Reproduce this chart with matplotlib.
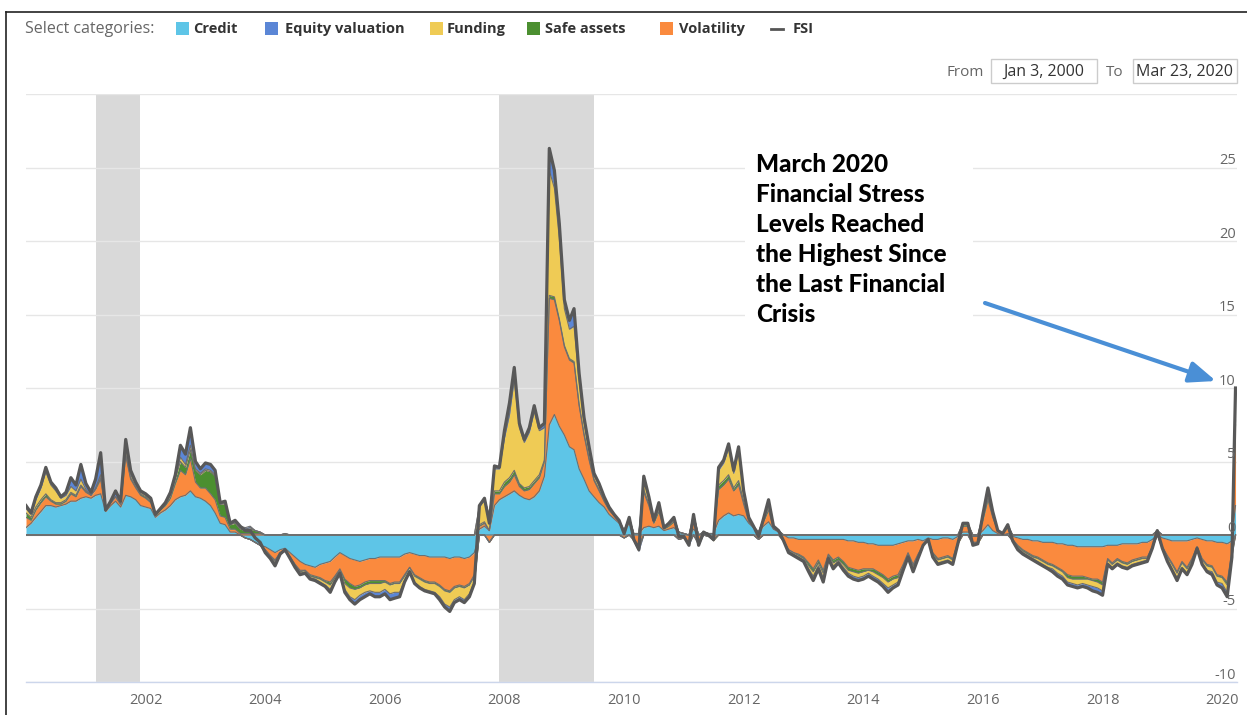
import matplotlib
matplotlib.use('Agg')

import numpy as np
import pandas as pd
import matplotlib.pyplot as plt
from matplotlib.patches import Rectangle, FancyArrowPatch
from matplotlib.lines import Line2D
from matplotlib.transforms import blended_transform_factory

W, H = 1247, 715

# monthly points, plus the last reading (Mar 23, 2020)
dates = list(pd.date_range('2000-01-01', '2020-03-01', freq='MS')) + [pd.Timestamp('2020-03-23')]

credit = [
    0.5, 0.8, 1.2, 1.6, 2.0, 2.0, 1.9, 2.0, 2.1, 2.3, 2.3, 2.5,          # 2000
    2.6, 2.5, 2.7, 2.8, 1.6, 2.0, 2.3, 1.9, 2.7, 2.6, 2.4, 2.0,          # 2001
    1.9, 1.8, 1.2, 1.5, 1.7, 2.0, 2.4, 2.6, 2.7, 3.0, 2.6, 2.5,          # 2002
    2.3, 2.0, 1.5, 0.8, 0.7, 0.2, 0.2, 0.0, -0.2, -0.3, -0.5, -0.7,      # 2003
    -0.8, -1.0, -1.2, -1.0, -0.9, -1.2, -1.5, -1.8, -2.0, -2.1, -2.2, -2.0,  # 2004
    -1.9, -1.8, -1.5, -1.2, -1.4, -1.6, -1.7, -1.8, -1.7, -1.6, -1.6, -1.5,  # 2005
    -1.5, -1.5, -1.5, -1.5, -1.3, -1.2, -1.3, -1.4, -1.4, -1.5, -1.5, -1.5,  # 2006
    -1.5, -1.6, -1.5, -1.5, -1.6, -1.5, -1.2, 0.4, 0.6, 0.3, 2.0, 2.4,   # 2007
    2.6, 2.8, 3.0, 2.7, 2.5, 2.4, 2.6, 3.0, 4.0, 7.5, 8.2, 7.4,          # 2008
    6.8, 6.0, 5.8, 4.5, 3.8, 3.0, 2.6, 2.2, 1.9, 1.4, 1.1, 0.8,          # 2009
    0.3, 0.8, 0.1, 0.1, 0.5, 0.6, 0.5, 0.6, 0.3, 0.4, 0.5, 0.2,          # 2010
    0.1, 0.0, 0.4, 0.0, 0.2, 0.1, 0.1, 1.0, 1.3, 1.5, 1.3, 1.4,          # 2011
    1.3, 0.8, 0.5, 0.2, 0.6, 0.9, 0.4, 0.2, 0.0, -0.2, -0.2, -0.3,       # 2012
    -0.3, -0.3, -0.3, -0.3, -0.3, -0.3, -0.3, -0.3, -0.3, -0.4, -0.4, -0.5,  # 2013
    -0.5, -0.6, -0.6, -0.7, -0.7, -0.7, -0.7, -0.6, -0.5, -0.4, -0.4, -0.3,  # 2014
    -0.4, -0.2, -0.3, -0.3, -0.2, -0.2, -0.3, -0.1, 0.2, 0.2, -0.1, -0.1,    # 2015
    0.3, 0.7, 0.3, 0.1, 0.0, 0.1, -0.1, -0.2, -0.3, -0.3, -0.4, -0.4,    # 2016
    -0.5, -0.5, -0.5, -0.6, -0.6, -0.7, -0.7, -0.8, -0.8, -0.8, -0.8, -0.8,  # 2017
    -0.8, -0.7, -0.7, -0.7, -0.6, -0.6, -0.6, -0.6, -0.5, -0.5, -0.3, 0.0,   # 2018
    -0.2, -0.3, -0.4, -0.4, -0.4, -0.4, -0.3, -0.2, -0.3, -0.4, -0.4, -0.5,  # 2019
    -0.5, -0.6, -0.4, 2.0,                                               # 2020
]

equity = [
    0.2, 0.1, 0.2, 0.2, 0.3, 0.2, 0.2, 0.1, 0.2, 0.6, 0.4, 1.0,
    0.4, 0.2, 0.6, 1.5, 0.0, 0.1, 0.4, 0.2, 0.6, 0.3, 0.2, 0.1,
    0.1, 0.1, 0.0, 0.0, 0.1, 0.1, 0.2, 0.8, 0.7, 1.2, 0.5, 0.3,
    0.4, 0.4, 0.3, 0.1, 0.1, 0.1, 0.1, 0.1, 0.1, 0.1, 0.0, 0.0,
    -0.1, -0.1, -0.2, -0.1, 0.0, -0.1, -0.1, -0.1, -0.1, -0.1, -0.1, -0.1,
    -0.1, -0.2, -0.1, -0.1, -0.2, -0.2, -0.3, -0.3, -0.3, -0.2, -0.3, -0.3,
    -0.3, -0.4, -0.4, -0.3, -0.1, -0.1, -0.1, -0.1, -0.1, -0.1, -0.1, -0.2,
    -0.2, -0.3, -0.2, -0.2, -0.2, -0.2, -0.1, 0.1, 0.1, 0.0, 0.2, 0.1,
    0.5, 0.8, 0.8, 0.3, 0.2, 0.3, 0.4, 0.2, 0.3, 1.5, 1.2, 1.0,
    0.6, 0.6, 1.2, 0.5, 0.3, 0.2, 0.1, 0.1, 0.1, 0.1, 0.0, 0.0,
    0.0, 0.0, -0.1, -0.2, 0.3, 0.1, 0.0, 0.1, 0.0, 0.0, 0.0, 0.0,
    0.0, -0.1, 0.1, -0.1, 0.0, 0.0, 0.0, 0.2, 0.2, 0.3, 0.2, 0.3,
    0.1, 0.0, 0.0, 0.0, 0.0, 0.1, 0.0, 0.0, 0.0, -0.1, -0.1, -0.1,
    -0.1, -0.2, -0.3, -0.2, -0.3, -0.1, -0.2, -0.1, -0.2, -0.2, -0.2, -0.2,
    -0.2, -0.2, -0.2, -0.2, -0.2, -0.3, -0.2, -0.2, -0.1, -0.1, -0.2, -0.1,
    0.0, 0.0, -0.1, -0.1, -0.1, -0.1, -0.1, 0.0, 0.0, 0.0, -0.1, 0.0,
    0.1, 0.2, 0.1, 0.0, 0.0, 0.0, 0.0, -0.1, -0.1, -0.1, -0.1, -0.1,
    -0.1, -0.1, -0.2, -0.2, -0.2, -0.2, -0.2, -0.2, -0.2, -0.2, -0.3, -0.3,
    -0.3, -0.1, -0.1, -0.1, -0.1, -0.1, -0.1, -0.1, -0.1, -0.1, 0.0, 0.0,
    0.0, -0.1, -0.1, -0.2, -0.1, -0.1, -0.1, 0.0, -0.1, -0.1, -0.2, -0.2,
    -0.3, -0.3, -0.1, 0.7,
]

safe_assets = [
    0.3, 0.2, 0.2, 0.2, 0.2, 0.1, 0.1, 0.1, 0.1, 0.1, 0.1, 0.1,
    0.1, 0.0, 0.0, 0.1, 0.0, 0.0, 0.0, 0.0, 0.1, 0.1, 0.1, 0.1,
    0.1, 0.1, 0.1, 0.1, 0.1, 0.2, 0.3, 0.6, 0.5, 0.6, 0.8, 0.9,
    1.2, 1.5, 1.6, 0.8, 0.9, 0.3, 0.4, 0.3, 0.2, 0.3, 0.2, 0.1,
    0.0, 0.0, -0.1, 0.0, 0.1, 0.0, 0.0, -0.1, 0.0, -0.1, -0.1, -0.1,
    -0.1, -0.2, -0.1, -0.1, -0.3, -0.3, -0.2, -0.2, -0.2, -0.2, -0.2, -0.2,
    -0.1, -0.1, -0.1, -0.1, -0.1, 0.0, -0.1, -0.1, -0.1, -0.1, -0.1, -0.1,
    -0.1, -0.1, -0.1, -0.1, -0.1, -0.1, -0.1, 0.1, 0.1, 0.0, 0.2, 0.2,
    0.3, 0.3, 0.3, 0.2, 0.2, 0.2, 0.2, 0.2, 0.1, 0.2, 0.2, 0.1,
    0.1, 0.1, 0.1, 0.1, 0.1, 0.1, 0.1, 0.1, 0.0, 0.0, 0.0, 0.0,
    0.0, 0.0, 0.0, -0.1, 0.2, 0.1, 0.1, 0.2, 0.1, 0.1, 0.1, 0.0,
    0.0, 0.0, 0.0, 0.0, 0.0, 0.0, 0.0, 0.3, 0.3, 0.3, 0.2, 0.3,
    0.2, 0.1, 0.0, 0.0, 0.1, 0.2, 0.1, 0.0, 0.0, 0.0, 0.0, -0.1,
    -0.1, -0.2, -0.2, -0.2, -0.2, -0.1, -0.2, -0.2, -0.2, -0.2, -0.2, -0.2,
    -0.2, -0.1, -0.2, -0.2, -0.2, -0.2, -0.2, -0.2, -0.1, -0.1, -0.1, -0.1,
    0.0, 0.0, -0.1, -0.1, -0.1, -0.1, -0.1, 0.0, 0.1, 0.1, 0.0, 0.0,
    0.1, 0.2, 0.1, 0.0, 0.0, 0.1, 0.0, -0.1, -0.1, -0.1, -0.1, -0.1,
    -0.1, -0.1, -0.1, -0.1, -0.1, -0.2, -0.2, -0.2, -0.2, -0.1, -0.1, -0.2,
    -0.2, -0.1, -0.1, -0.1, -0.1, -0.1, -0.1, -0.1, -0.1, -0.1, 0.0, 0.0,
    0.0, -0.1, -0.1, -0.1, -0.1, -0.1, -0.1, 0.0, -0.1, -0.1, -0.1, -0.1,
    -0.1, -0.2, -0.1, 0.3,
]

funding = [
    0.3, 0.2, 0.5, 0.8, 1.5, 1.0, 0.8, 0.3, 0.3, 0.4, 0.3, 0.4,
    0.1, 0.0, 0.1, 0.2, 0.0, 0.0, 0.0, 0.0, 0.4, 0.2, 0.1, 0.1,
    0.1, 0.1, 0.0, 0.0, 0.0, 0.1, 0.1, 0.3, 0.2, 0.3, 0.1, 0.1,
    0.1, 0.1, 0.1, 0.0, 0.1, 0.0, 0.1, 0.1, 0.1, 0.1, 0.0, 0.0,
    -0.1, -0.1, -0.1, 0.0, 0.0, 0.0, -0.1, -0.1, -0.1, -0.1, -0.1, -0.2,
    -0.2, -0.3, -0.2, -0.1, -0.4, -0.6, -0.7, -0.5, -0.5, -0.5, -0.6, -0.6,
    -0.5, -0.6, -0.6, -0.6, -0.3, -0.2, -0.4, -0.5, -0.5, -0.5, -0.6, -0.7,
    -0.9, -1.0, -0.8, -0.7, -0.8, -0.6, -0.4, 1.2, 1.5, 1.0, 1.5, 1.5,
    3.0, 4.3, 6.2, 3.8, 3.1, 3.7, 4.7, 3.0, 2.2, 8.5, 7.4, 5.5,
    2.5, 2.0, 2.4, 1.6, 0.8, 0.6, 0.3, 0.3, 0.2, 0.1, 0.1, 0.1,
    0.0, 0.1, 0.0, -0.1, 0.6, 0.4, 0.1, 0.3, 0.0, 0.1, 0.2, 0.0,
    0.0, -0.1, 0.2, -0.1, 0.0, 0.0, -0.1, 1.0, 1.2, 1.8, 1.0, 2.0,
    0.6, 0.2, 0.1, 0.0, 0.1, 0.4, 0.1, 0.0, 0.0, -0.1, -0.1, -0.1,
    -0.1, -0.2, -0.3, -0.2, -0.3, -0.1, -0.2, -0.1, -0.2, -0.2, -0.3, -0.3,
    -0.3, -0.2, -0.3, -0.3, -0.4, -0.4, -0.4, -0.3, -0.2, -0.1, -0.2, -0.1,
    0.0, 0.0, -0.1, -0.2, -0.2, -0.2, -0.2, -0.1, 0.1, 0.1, -0.1, -0.1,
    0.2, 0.4, 0.2, 0.0, 0.0, 0.1, -0.1, -0.1, -0.1, -0.1, -0.1, -0.2,
    -0.2, -0.2, -0.2, -0.3, -0.3, -0.3, -0.3, -0.4, -0.3, -0.4, -0.4, -0.4,
    -0.4, -0.2, -0.2, -0.2, -0.2, -0.2, -0.2, -0.2, -0.2, -0.1, -0.1, 0.0,
    -0.1, -0.2, -0.3, -0.3, -0.3, -0.3, -0.2, -0.1, -0.2, -0.3, -0.3, -0.4,
    -0.4, -0.5, -0.2, 1.5,
]

volatility = [
    0.7, 0.2, 0.5, 0.6, 0.6, 0.3, 0.2, 0.1, 0.2, 0.5, 0.3, 0.8,
    0.3, 0.2, 0.4, 1.0, 0.1, 0.2, 0.3, 0.2, 2.7, 1.2, 0.8, 0.7,
    0.6, 0.4, 0.1, 0.2, 0.3, 0.5, 1.1, 1.8, 1.4, 2.2, 1.0, 0.7,
    0.9, 0.8, 0.9, 0.5, 0.5, 0.2, 0.2, 0.1, 0.1, 0.1, 0.1, 0.1,
    -0.2, -0.4, -0.5, -0.2, -0.2, -0.3, -0.5, -0.6, -0.4, -0.6, -0.6, -0.9,
    -1.2, -1.4, -1.3, -1.1, -1.6, -1.7, -1.8, -1.6, -1.5, -1.5, -1.5, -1.6,
    -1.6, -1.8, -1.7, -1.7, -1.4, -1.0, -1.4, -1.5, -1.7, -1.7, -1.7, -1.9,
    -2.2, -2.2, -2.0, -1.9, -1.9, -1.8, -1.5, 0.2, 0.2, -0.5, 0.8, 0.4,
    0.7, 0.8, 1.1, 0.6, 0.5, 0.7, 0.9, 0.9, 1.0, 8.6, 7.8, 7.2,
    6.0, 5.9, 5.9, 4.3, 3.0, 2.1, 1.1, 0.8, 0.4, 0.3, 0.2, 0.1,
    -0.2, 0.3, -0.3, -0.7, 2.4, 1.4, 0.3, 1.0, 0.1, 0.2, 0.4, -0.3,
    -0.2, -0.5, 0.7, -0.5, 0.0, -0.1, -0.3, 2.1, 2.1, 2.3, 1.7, 2.0,
    0.8, 0.1, 0.0, -0.3, 0.3, 0.8, 0.0, 0.1, -0.4, -0.8, -1.0, -1.0,
    -1.2, -1.6, -2.0, -1.4, -2.1, -1.0, -1.4, -1.2, -1.5, -1.8, -1.9, -1.9,
    -1.8, -1.7, -1.7, -1.8, -2.0, -2.3, -2.1, -2.1, -1.5, -0.8, -1.6, -1.0,
    -0.3, -0.1, -0.9, -1.3, -1.3, -1.2, -1.3, -0.4, 0.4, 0.4, -0.4, -0.4,
    0.7, 1.7, 0.9, 0.2, 0.1, 0.4, -0.2, -0.5, -0.7, -0.9, -1.0, -1.1,
    -1.2, -1.4, -1.5, -1.6, -1.8, -2.0, -2.1, -2.0, -2.0, -2.1, -2.2, -2.2,
    -2.4, -0.9, -1.2, -0.9, -1.2, -1.3, -1.1, -1.0, -1.0, -1.0, -0.5, 0.3,
    -0.6, -1.1, -1.5, -2.1, -1.4, -1.8, -1.3, -0.6, -1.3, -1.6, -1.7, -2.2,
    -2.3, -2.6, -0.7, 5.5,
]

recessions = [('2001-03-01', '2001-11-30'), ('2007-12-01', '2009-06-30')]
year_ticks = list(range(2002, 2021, 2))
y_ticks = list(range(-10, 26, 5))

# stacking order from the zero line outwards
stack = [
    (credit, '#5ec5e7'),
    (volatility, '#fa8a3e'),
    (safe_assets, '#4b8f30'),
    (funding, '#efcb55'),
    (equity, '#5b86d6'),
]
legend_items = [('Credit', '#5ec5e7'), ('Equity valuation', '#5b86d6'), ('Funding', '#efcb55'),
                ('Safe assets', '#4b8f30'), ('Volatility', '#fa8a3e')]


def fx(px):
    return px / W


def fy(py):
    return 1 - py / H


plt.rcParams['font.family'] = ['Open Sans', 'DejaVu Sans']

fig = plt.figure(figsize=(W / 100, H / 100), dpi=100)
ax = fig.add_axes([fx(26), fy(682), (1237 - 26) / W, (682 - 94) / H])

x = pd.DatetimeIndex(dates).values

for start, end in recessions:
    ax.axvspan(pd.Timestamp(start), pd.Timestamp(end), color='#d9d9d9', lw=0, zorder=0)
for v in range(-10, 31, 5):
    ax.axhline(v, color='#e6e6e6', lw=1, zorder=1)

pos_base = np.zeros(len(x))
neg_base = np.zeros(len(x))
for vals, col in stack:
    vals = np.array(vals)
    p = np.clip(vals, 0, None)
    n = np.clip(vals, None, 0)
    ax.fill_between(x, pos_base, pos_base + p, color=col, lw=0, zorder=2)
    ax.fill_between(x, neg_base, neg_base + n, color=col, lw=0, zorder=2)
    pos_base = pos_base + p
    neg_base = neg_base + n
    ax.plot(x, pos_base, color='#6e6e6e', lw=0.8, zorder=3)
    ax.plot(x, neg_base, color='#6e6e6e', lw=0.8, zorder=3)

fsi = np.sum([np.array(v) for v, _ in stack], axis=0)
ax.plot(x, fsi, color='#585858', lw=2.3, zorder=4)

ax.set_xlim(pd.Timestamp('2000-01-01'), pd.Timestamp('2020-04-01'))
ax.set_ylim(-10, 30)
ax.set_yticks([])
ax.set_xticks([pd.Timestamp(f'{y}-01-01') for y in year_ticks])
ax.set_xticklabels([str(y) for y in year_ticks])
ax.tick_params(axis='x', length=0, pad=8, labelsize=10.5, labelcolor='#666666')
for side in ['top', 'left', 'right']:
    ax.spines[side].set_visible(False)
ax.spines['bottom'].set_color('#ccd6eb')
ax.spines['bottom'].set_linewidth(1)

trans = blended_transform_factory(ax.transAxes, ax.transData)
for v in y_ticks:
    ax.text(0.999, v + 0.45, str(v), transform=trans, ha='right', va='center',
            fontsize=10.5, color='#666666', zorder=5)

# screenshot frame
fig.add_artist(Line2D([fx(6), fx(6)], [fy(12), 0], color='#222222', lw=1.2))
fig.add_artist(Line2D([fx(6), 1], [fy(12), fy(12)], color='#222222', lw=1.2))

# legend row
fig.text(fx(25), fy(29), 'Select categories:', color='#666666', fontsize=11.5, va='center')
sq_x = [176, 265, 430, 527, 660]
txt_x = [193, 285, 447, 545, 679]
for (lab, col), sx, tx in zip(legend_items, sq_x, txt_x):
    fig.add_artist(Rectangle((fx(sx), fy(35)), 13 / W, 13 / H, transform=fig.transFigure,
                             color=col, lw=0))
    fig.text(fx(tx), fy(29), lab, color='#333333', fontsize=10.5, fontweight='bold', va='center')
fig.add_artist(Line2D([fx(771), fx(783)], [fy(29), fy(29)], color='#555555', lw=2))
fig.text(fx(793), fy(29), 'FSI', color='#333333', fontsize=10.5, fontweight='bold', va='center')

# date range boxes
fig.text(fx(946), fy(72), 'From', color='#666666', fontsize=11, va='center')
fig.add_artist(Rectangle((fx(991), fy(83)), 106 / W, 24 / H, transform=fig.transFigure,
                         facecolor='white', edgecolor='#cccccc', lw=1))
fig.text(fx(1044), fy(72), 'Jan 3, 2000', color='#333333', fontsize=11.5, ha='center', va='center')
fig.text(fx(1106), fy(72), 'To', color='#666666', fontsize=11, va='center')
fig.add_artist(Rectangle((fx(1133), fy(83)), 104 / W, 24 / H, transform=fig.transFigure,
                         facecolor='white', edgecolor='#cccccc', lw=1))
fig.text(fx(1185), fy(72), 'Mar 23, 2020', color='#333333', fontsize=11.5, ha='center', va='center')

# annotation
fig.add_artist(Rectangle((fx(745), fy(328)), 228 / W, 183 / H, transform=fig.transFigure,
                         facecolor='white', edgecolor='none', zorder=2))
fig.text(fx(756), fy(153),
         'March 2020\nFinancial Stress\nLevels Reached\nthe Highest Since\nthe Last Financial\nCrisis',
         family=['Lato', 'DejaVu Sans'], fontweight='black', fontsize=17.5, color='black',
         ha='left', va='top', linespacing=1.37, zorder=3)
fig.add_artist(FancyArrowPatch((fx(985), fy(303)), (fx(1216), fy(381)), transform=fig.transFigure,
                               arrowstyle='-|>,head_length=0.8,head_width=0.32', mutation_scale=20,
                               color='#4a8fd6', lw=3, shrinkA=0, shrinkB=0, zorder=3))

fig.savefig('out.png', dpi=100)
